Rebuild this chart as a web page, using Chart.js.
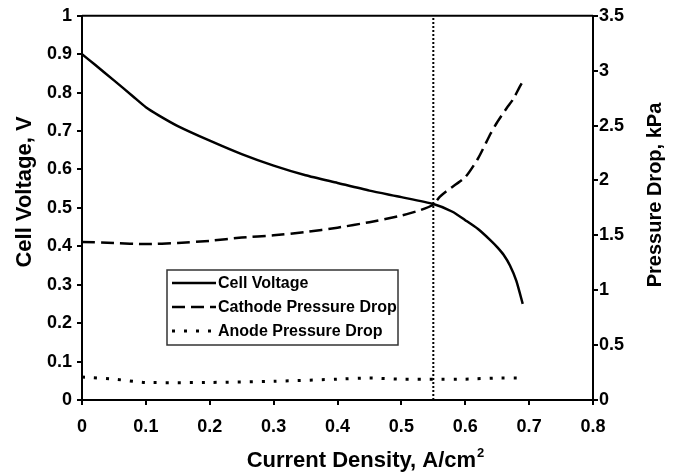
<!DOCTYPE html>
<html>
<head>
<meta charset="utf-8">
<script src="https://cdn.jsdelivr.net/npm/chart.js@4/dist/chart.umd.min.js"></script>
<style>
  html, body { margin: 0; padding: 0; background: #fff; }
  #wrap { width: 673px; height: 472px; }
</style>
</head>
<body>
<div id="wrap"><canvas id="myChart" width="673" height="472"></canvas></div>
<script>
// values
const xTicks = [0, 0.1, 0.2, 0.3, 0.4, 0.5, 0.6, 0.7, 0.8];
const voltageTicks = [0, 0.1, 0.2, 0.3, 0.4, 0.5, 0.6, 0.7, 0.8, 0.9, 1];
const pressureTicks = [0, 0.5, 1, 1.5, 2, 2.5, 3, 3.5];

const voltageX = [0, 0.02, 0.05, 0.08, 0.1, 0.12, 0.15, 0.2, 0.25, 0.3, 0.35, 0.4, 0.45, 0.5, 0.55, 0.58, 0.6, 0.62, 0.64, 0.65, 0.66, 0.67, 0.68, 0.69];
const voltage = [0.9, 0.873, 0.832, 0.79, 0.762, 0.741, 0.713, 0.675, 0.64, 0.61, 0.585, 0.565, 0.545, 0.528, 0.51, 0.49, 0.468, 0.445, 0.415, 0.398, 0.378, 0.35, 0.31, 0.25];

const cathodeX = [0, 0.05, 0.1, 0.15, 0.2, 0.25, 0.3, 0.35, 0.4, 0.45, 0.5, 0.53, 0.55, 0.56, 0.57, 0.6, 0.62, 0.64, 0.65, 0.665, 0.675, 0.685, 0.69];
const cathodeDrop = [1.44, 1.43, 1.42, 1.43, 1.45, 1.48, 1.5, 1.53, 1.57, 1.62, 1.68, 1.73, 1.78, 1.85, 1.9, 2.03, 2.2, 2.43, 2.53, 2.66, 2.74, 2.85, 2.9];

const anodeX = [0, 0.05, 0.1, 0.2, 0.3, 0.4, 0.45, 0.5, 0.55, 0.6, 0.65, 0.69];
const anodeDrop = [0.21, 0.19, 0.16, 0.16, 0.17, 0.19, 0.2, 0.19, 0.19, 0.19, 0.2, 0.2];

const markerX = 0.55;

const toPoints = (xs, ys) => xs.map((x, i) => ({ x: x, y: ys[i] }));

const FONT = '"Liberation Sans", Arial, sans-serif';

// titles, legend inside the plot, top frame line
const extras = {
  id: 'extras',
  afterDraw(chart) {
    const ctx = chart.ctx;
    const area = chart.chartArea;
    ctx.save();
    ctx.strokeStyle = '#000';
    ctx.lineWidth = 2;
    ctx.beginPath();
    ctx.moveTo(area.left, area.top);
    ctx.lineTo(area.right, area.top);
    ctx.stroke();
    ctx.fillStyle = '#000';
    ctx.textAlign = 'center';
    ctx.textBaseline = 'middle';

    // left title
    ctx.save();
    ctx.font = 'bold 22px ' + FONT;
    ctx.translate(25, 192);
    ctx.rotate(-Math.PI / 2);
    ctx.fillText('Cell Voltage, V', 0, 0);
    ctx.restore();

    // right title
    ctx.save();
    ctx.font = 'bold 20px ' + FONT;
    ctx.translate(655, 195);
    ctx.rotate(-Math.PI / 2);
    ctx.fillText('Pressure Drop, kPa', 0, 0);
    ctx.restore();

    // bottom title with superscript
    ctx.textAlign = 'left';
    ctx.textBaseline = 'alphabetic';
    ctx.font = 'bold 22px ' + FONT;
    const main = 'Current Density, A/cm';
    const w = ctx.measureText(main).width;
    ctx.font = 'bold 13px ' + FONT;
    const w2 = ctx.measureText('2').width;
    const sx = 365 - (w + w2) / 2;
    ctx.font = 'bold 22px ' + FONT;
    ctx.fillText(main, sx, 467);
    ctx.font = 'bold 13px ' + FONT;
    ctx.fillText('2', sx + w + 1, 457);
    ctx.restore();

    // legend
    ctx.save();
    const bx = 167, by = 270, bw = 231, bh = 75;
    ctx.fillStyle = '#fff';
    ctx.fillRect(bx, by, bw, bh);
    ctx.strokeStyle = '#333';
    ctx.lineWidth = 1.5;
    ctx.strokeRect(bx, by, bw, bh);
    ctx.font = 'bold 16px ' + FONT;
    ctx.textBaseline = 'middle';
    ctx.fillStyle = '#000';
    const items = chart.data.datasets.filter(d => d.inLegend);
    items.forEach((d, i) => {
      const y = by + 13 + i * 24;
      ctx.strokeStyle = '#000';
      ctx.lineWidth = d.borderWidth;
      ctx.setLineDash(d.borderDash || []);
      ctx.beginPath();
      ctx.moveTo(bx + 5, y);
      ctx.lineTo(bx + 49, y);
      ctx.stroke();
      ctx.setLineDash([]);
      ctx.fillText(d.label, bx + 51, y + 1);
    });
    ctx.restore();
  }
};

const tickFont = { family: FONT, size: 18, weight: 'bold' };
const axisGrid = { drawOnChartArea: false, drawTicks: true, tickLength: 5, color: '#000', lineWidth: 2 };

new Chart('myChart', {
  type: 'line',
  data: {
    datasets: [
      {
        label: 'Cell Voltage',
        data: toPoints(voltageX, voltage),
        yAxisID: 'y',
        borderColor: '#000',
        borderWidth: 2.5,
        pointRadius: 0,
        tension: 0.2,
        inLegend: true
      },
      {
        label: 'Cathode Pressure Drop',
        data: toPoints(cathodeX, cathodeDrop),
        yAxisID: 'y1',
        borderColor: '#000',
        borderWidth: 2.5,
        borderDash: [13, 6],
        pointRadius: 0,
        tension: 0.2,
        inLegend: true
      },
      {
        label: 'Anode Pressure Drop',
        data: toPoints(anodeX, anodeDrop),
        yAxisID: 'y1',
        borderColor: '#000',
        borderWidth: 3,
        borderDash: [3, 9],
        pointRadius: 0,
        tension: 0.2,
        inLegend: true
      },
      {
        label: 'marker',
        data: [{ x: markerX, y: 0 }, { x: markerX, y: 1 }],
        yAxisID: 'y',
        borderColor: '#000',
        borderWidth: 2,
        borderDash: [2, 2],
        pointRadius: 0
      }
    ]
  },
  options: {
    responsive: false,
    animation: false,
    layout: { padding: { top: 11 } },
    plugins: {
      legend: { display: false },
      tooltip: { enabled: false }
    },
    scales: {
      x: {
        type: 'linear',
        min: 0,
        max: 0.8,
        afterBuildTicks: s => { s.ticks = xTicks.map(v => ({ value: v })); },
        afterFit: s => { s.height = 72; },
        ticks: { color: '#000', font: tickFont, padding: 11, maxRotation: 0, callback: v => String(v) },
        grid: axisGrid,
        border: { color: '#000', width: 2 }
      },
      y: {
        position: 'left',
        min: 0,
        max: 1,
        afterBuildTicks: s => { s.ticks = voltageTicks.map(v => ({ value: v })); },
        afterFit: s => { s.width = 82; },
        ticks: { color: '#000', font: tickFont, padding: 5, callback: v => String(v) },
        grid: axisGrid,
        border: { color: '#000', width: 2 }
      },
      y1: {
        position: 'right',
        min: 0,
        max: 3.5,
        afterBuildTicks: s => { s.ticks = pressureTicks.map(v => ({ value: v })); },
        afterFit: s => { s.width = 80; },
        ticks: { color: '#000', font: tickFont, padding: 1, callback: v => String(v) },
        grid: axisGrid,
        border: { color: '#000', width: 2 }
      }
    }
  },
  plugins: [extras]
});
</script>
</body>
</html>
